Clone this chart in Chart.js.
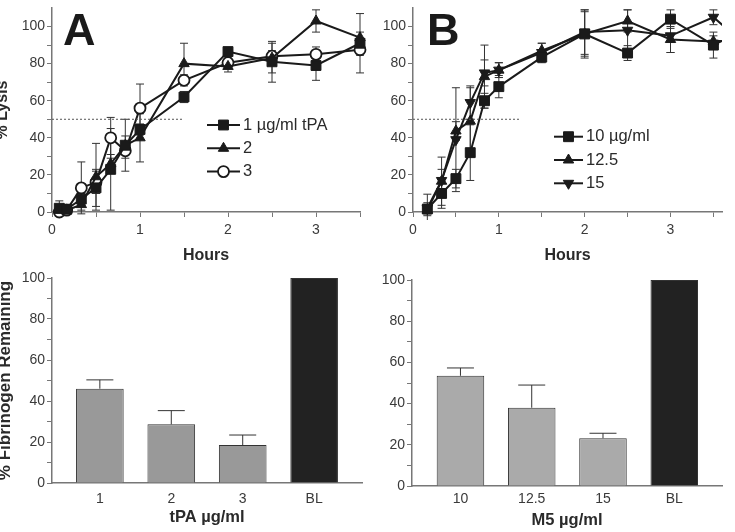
<!DOCTYPE html>
<html>
<head>
<meta charset="utf-8">
<script src="https://cdn.jsdelivr.net/npm/chart.js@4.4.0/dist/chart.umd.min.js"></script>
<style>
  html, body { margin: 0; padding: 0; background: #fff; }
  body { position: relative; width: 735px; height: 532px; overflow: hidden; }
  .panel { position: absolute; }
</style>
</head>
<body>
<div class="panel" style="left:-7px;top:0;width:375px;height:270px"><canvas id="chartA"></canvas></div>
<div class="panel" style="left:354px;top:0;width:381px;height:270px"><canvas id="chartB"></canvas></div>
<div class="panel" style="left:-7px;top:262px;width:375px;height:270px"><canvas id="chartC"></canvas></div>
<div class="panel" style="left:353px;top:262px;width:382px;height:270px"><canvas id="chartD"></canvas></div>
<script>
// ---- data ----
const timeA = [0.083, 0.167, 0.333, 0.5, 0.667, 0.833, 1, 1.5, 2, 2.5, 3, 3.5];
const tpa1 = [2, 1.5, 7, 13, 23, 36, 44.5, 62, 86.5, 81, 79, 91];
const tpa1Err = [4, 2, 3, 10, 22, 14, 3, 3, 2, 11, 8, 16];
const tpa2 = [1, 1, 4, 19, 26, 36, 40, 80, 78.5, 83, 103, 94];
const tpa2Err = [2, 1, 3, 18, 5, 5, 13, 11, 3, 8, 6, 3];
const tpa3 = [0, 1, 13, 16, 40, 33, 56, 71, 80.5, 84, 85, 87.5];
const tpa3Err = [2, 1, 14, 6, 11, 4, 13, 3, 3, 3, 4, 3];

const timeB = [0.167, 0.333, 0.5, 0.667, 0.833, 1, 1.5, 2, 2.5, 3, 3.5, 4];
const m10 = [1.6, 10, 18, 32, 60, 67.6, 83.5, 96, 85.7, 104, 90, 101];
const m10Err = [8, 8, 5, 15, 4, 6, 3, 13, 4, 5, 7, 0];
const m125 = [1, 16.6, 43.7, 49, 73, 76.5, 87, 96, 103, 93, 92, 94];
const m125Err = [3, 13, 5, 18, 17, 4, 4, 12, 6, 7, 3, 0];
const m15 = [2, 17, 39, 59, 75, 76.5, 86, 97, 98, 95, 105, 85];
const m15Err = [3, 6, 28, 9, 7, 4, 5, 12, 11, 9, 4, 0];

const halfLysis = 50;
const halfSpanA = [0, 1.5];
const halfSpanB = [0, 1.25];

const lysisTicks = [0, 10, 20, 30, 40, 50, 60, 70, 80, 90, 100];
const hourTicks = [0, 0.5, 1, 1.5, 2, 2.5, 3, 3.5];

const tpaDoses = ['1', '2', '3', 'BL'];
const fibTpa = [46, 28.6, 18.5, 100];
const fibTpaErr = [4.3, 6.7, 4.9, 0];
const m5Doses = ['10', '12.5', '15', 'BL'];
const fibM5 = [53.5, 38, 23.2, 100];
const fibM5Err = [3.8, 11, 2.4, 0];
const barSlots = [1, 2, 3, 4];

// ---- shared look ----
const FONT = '"Liberation Sans", Arial, sans-serif';
const AXIS = '#777';
const INK = '#1a1a1a';
const TICK_SIZE = 14;
Chart.defaults.font.family = FONT;
Chart.defaults.color = '#3a3a3a';
Chart.defaults.animation = false;

function xy(xs, ys) {
  return xs.map((x, i) => ({ x: x, y: ys[i] }));
}
function fixWidth(w) {
  return s => { s.width = w; s.paddingTop = 0; s.paddingBottom = 0; };
}
function fixHeight(h) {
  return s => { s.height = h; s.paddingLeft = 0; s.paddingRight = 0; };
}
function useTicks(vals) {
  return s => { s.ticks = vals.map(v => ({ value: v })); };
}

// error bars drawn through the chart scales
const errorBars = {
  id: 'errorBars',
  beforeDatasetsDraw(chart, args, opts) {
    const ctx = chart.ctx;
    const a = chart.chartArea;
    const c = opts.clip || { left: 8, right: 8, top: 8, bottom: 8 };
    const ys = chart.scales.y;
    ctx.save();
    ctx.beginPath();
    ctx.rect(a.left - c.left, a.top - c.top, a.width + c.left + c.right, a.height + c.top + c.bottom);
    ctx.clip();
    ctx.strokeStyle = opts.color || '#333';
    ctx.lineWidth = 1;
    chart.data.datasets.forEach((ds, i) => {
      if (!ds.errors) return;
      const meta = chart.getDatasetMeta(i);
      meta.data.forEach((el, j) => {
        const e = ds.errors[j];
        if (!e) return;
        const v = ds.data[j].y;
        const px = el.x;
        const top = ys.getPixelForValue(v + e);
        const bot = opts.upOnly ? ys.getPixelForValue(v) : ys.getPixelForValue(v - e);
        ctx.beginPath();
        ctx.moveTo(px, top); ctx.lineTo(px, bot);
        ctx.moveTo(px - opts.cap, top); ctx.lineTo(px + opts.cap, top);
        if (!opts.upOnly) { ctx.moveTo(px - opts.cap, bot); ctx.lineTo(px + opts.cap, bot); }
        ctx.stroke();
      });
    });
    ctx.restore();
  }
};

// legend with line + marker, and the big panel letter
const sideLegend = {
  id: 'sideLegend',
  afterDraw(chart, args, opts) {
    const ctx = chart.ctx;
    ctx.save();
    if (opts.letter) {
      ctx.font = 'bold 45px ' + FONT;
      ctx.fillStyle = INK;
      ctx.textBaseline = 'alphabetic';
      ctx.fillText(opts.letter, opts.letterX, opts.letterY);
    }
    if (opts.x !== undefined) {
      let row = 0;
      chart.data.datasets.forEach(ds => {
        if (!ds.legendText) return;
        const y = opts.y + row * opts.gap;
        ctx.strokeStyle = ds.borderColor;
        ctx.lineWidth = ds.borderWidth;
        ctx.beginPath();
        ctx.moveTo(opts.x, y); ctx.lineTo(opts.x + opts.len, y);
        ctx.stroke();
        ctx.fillStyle = ds.pointBackgroundColor;
        ctx.strokeStyle = ds.pointBorderColor;
        ctx.lineWidth = ds.pointBorderWidth;
        Chart.helpers.drawPoint(ctx, {
          pointStyle: ds.pointStyle, radius: ds.pointRadius,
          rotation: ds.pointRotation || 0, borderWidth: ds.pointBorderWidth
        }, opts.x + opts.len / 2, y);
        ctx.fillStyle = '#2a2a2a';
        ctx.font = '16.5px ' + FONT;
        ctx.textBaseline = 'middle';
        ctx.fillText(ds.legendText, opts.x + opts.len + 3, y);
        row++;
      });
    }
    ctx.restore();
  }
};

function series(label, data, err, style) {
  return Object.assign({
    legendText: label,
    data: data,
    errors: err,
    borderColor: INK,
    borderWidth: 2,
    pointBackgroundColor: INK,
    pointBorderColor: INK,
    pointBorderWidth: 1,
    tension: 0
  }, style);
}
const square = { pointStyle: 'rect', pointRadius: 7 };
const triUp = { pointStyle: 'triangle', pointRadius: 6 };
const triDown = { pointStyle: 'triangle', pointRadius: 6, pointRotation: 180 };
const ring = { pointStyle: 'circle', pointRadius: 5.5, pointBackgroundColor: '#fff', pointBorderWidth: 1.8 };

function halfLine(span) {
  return {
    data: span.map(x => ({ x: x, y: halfLysis })),
    borderColor: '#555', borderWidth: 1, borderDash: [2, 2],
    pointRadius: 0, clip: 0
  };
}

function lysisScales(xMax, showYTitle) {
  return {
    x: {
      type: 'linear', min: 0, max: xMax,
      afterBuildTicks: useTicks(hourTicks),
      afterFit: fixHeight(58),
      ticks: { font: { size: TICK_SIZE }, padding: 4.6, callback: v => Number.isInteger(v) ? v : '' },
      grid: { drawOnChartArea: false, tickLength: 5, color: AXIS },
      border: { color: AXIS, width: 1.5 },
      title: { display: true, text: 'Hours', color: '#2a2a2a', font: { size: 16, weight: 'bold' }, padding: { top: 0, bottom: 5 } }
    },
    y: {
      min: 0, max: 110,
      afterBuildTicks: useTicks(lysisTicks),
      afterFit: fixWidth(59),
      ticks: { font: { size: TICK_SIZE }, padding: 2, callback: v => v % 20 === 0 ? v : '' },
      grid: { drawOnChartArea: false, tickLength: 5, color: AXIS },
      border: { color: AXIS, width: 1.5 },
      title: { display: showYTitle, text: '% Lysis', color: '#2a2a2a', font: { size: 16, weight: 'bold' }, padding: { top: 0, bottom: 0 } }
    }
  };
}

// ---- A ----
new Chart(document.getElementById('chartA'), {
  type: 'line',
  data: {
    datasets: [
      halfLine(halfSpanA),
      series('1 µg/ml tPA', xy(timeA, tpa1), tpa1Err, square),
      series('2', xy(timeA, tpa2), tpa2Err, triUp),
      series('3', xy(timeA, tpa3), tpa3Err, ring)
    ]
  },
  options: {
    responsive: true, maintainAspectRatio: false, events: [],
    layout: { padding: { top: 5, right: 7, left: 0, bottom: 0 } },
    datasets: { line: { clip: 10 } },
    scales: lysisScales(3.5, true),
    plugins: {
      legend: { display: false }, tooltip: { enabled: false },
      errorBars: { cap: 4 },
      sideLegend: { letter: 'A', letterX: 70, letterY: 45, x: 214, y: 125, gap: 23.3, len: 33 }
    }
  },
  plugins: [errorBars, sideLegend]
});

// ---- B ----
new Chart(document.getElementById('chartB'), {
  type: 'line',
  data: {
    datasets: [
      halfLine(halfSpanB),
      series('10 µg/ml', xy(timeB, m10), m10Err, square),
      series('12.5', xy(timeB, m125), m125Err, triUp),
      series('15', xy(timeB, m15), m15Err, triDown)
    ]
  },
  options: {
    responsive: true, maintainAspectRatio: false, events: [],
    layout: { padding: { top: 5, right: 13, left: 0, bottom: 0 } },
    datasets: { line: { clip: { left: 10, top: 10, right: 0, bottom: 10 } } },
    scales: lysisScales(3.6, false),
    plugins: {
      legend: { display: false }, tooltip: { enabled: false },
      errorBars: { cap: 4, clip: { left: 8, right: 0, top: 8, bottom: 8 } },
      sideLegend: { letter: 'B', letterX: 73, letterY: 45, x: 200, y: 136.7, gap: 23.3, len: 29 }
    }
  },
  plugins: [errorBars, sideLegend]
});

// ---- bar panels ----
function barChart(id, doses, vals, errs, grey, xTitle, yTitle, pad, xHeight, labelPad, titlePad, xMin) {
  return new Chart(document.getElementById(id), {
    type: 'bar',
    data: {
      datasets: [{
        data: xy(barSlots, vals),
        errors: errs,
        backgroundColor: vals.map((v, i) => doses[i] === 'BL' ? '#222' : grey),
        borderColor: '#333',
        borderWidth: 1,
        barPercentage: 0.667,
        categoryPercentage: 1
      }]
    },
    options: {
      responsive: true, maintainAspectRatio: false, events: [],
      layout: { padding: pad },
      scales: {
        x: {
          type: 'linear', min: xMin, max: 4.67, offset: false,
          afterBuildTicks: useTicks(barSlots),
          afterFit: fixHeight(xHeight),
          ticks: { font: { size: TICK_SIZE }, padding: labelPad, callback: v => doses[v - 1] },
          grid: { display: false, drawTicks: false, offset: false },
          border: { color: AXIS, width: 1.5 },
          title: { display: true, text: xTitle, color: '#2a2a2a', font: { size: 16.5, weight: 'bold' }, padding: { top: 0, bottom: titlePad } }
        },
        y: {
          min: 0, max: 100,
          afterBuildTicks: useTicks(lysisTicks),
          afterFit: fixWidth(59),
          ticks: { font: { size: TICK_SIZE }, padding: 2, callback: v => v % 20 === 0 ? v : '' },
          grid: { drawOnChartArea: false, tickLength: 5, color: AXIS },
          border: { color: AXIS, width: 1.5 },
          title: { display: !!yTitle, text: yTitle, color: '#2a2a2a', font: { size: 17, weight: 'bold' }, padding: { top: 2, bottom: 0 } }
        }
      },
      plugins: {
        legend: { display: false }, tooltip: { enabled: false },
        errorBars: { cap: 13.5, upOnly: true }
      }
    },
    plugins: [errorBars]
  });
}

barChart('chartC', tpaDoses, fibTpa, fibTpaErr, '#999', 'tPA µg/ml', '% Fibrinogen Remaining',
  { top: 16, right: 6, left: 0, bottom: 0 }, 49, 7.6, 5, 0.33);
barChart('chartD', m5Doses, fibM5, fibM5Err, '#aaa', 'M5 µg/ml', '',
  { top: 18, right: 13, left: 0, bottom: 0 }, 46, 4.6, 2, 0.32);
</script>
</body>
</html>
